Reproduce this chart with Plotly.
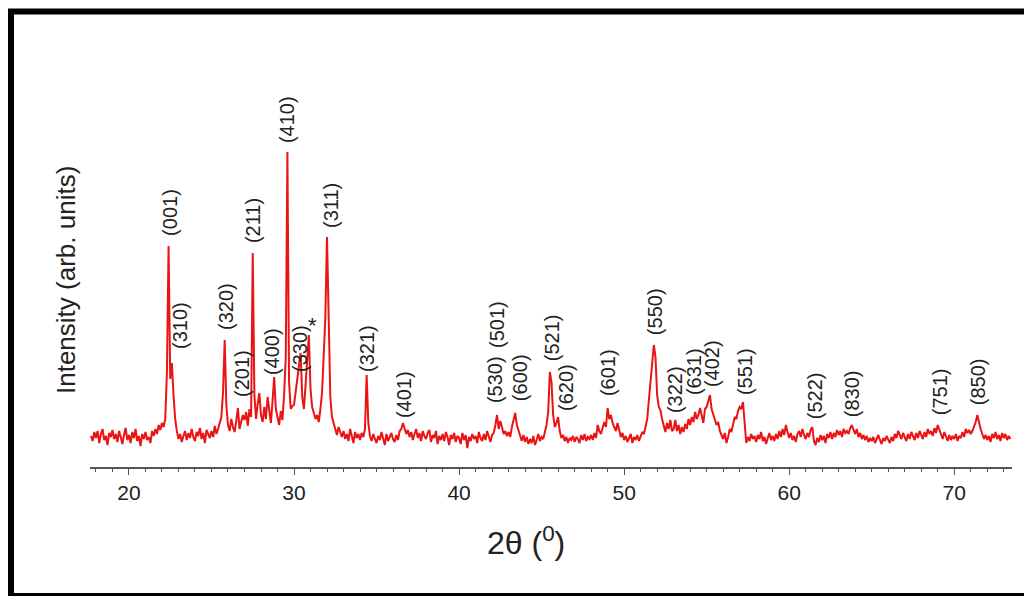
import numpy as np
import plotly.graph_objects as go

# ---- data ----
start_2theta = 17.7
step_2theta = 0.1
intensity = [
    31, 26, 35,
    29, 36, 24, 33, 38, 27, 31, 22, 34, 30,      # 18
    37, 28, 33, 25, 36, 30, 23, 32, 39, 27,      # 19
    32, 24, 35, 29, 38, 26, 31, 21, 33, 28,      # 20
    35, 27, 30, 24, 36, 31, 38, 33, 42, 37,      # 21
    44, 40, 48, 95, 221, 88, 104, 72, 48, 36,    # 22
    28, 33, 25, 31, 36, 27, 34, 29, 38, 30,      # 23
    26, 35, 31, 39, 28, 34, 24, 37, 32, 29,      # 24
    36, 30, 41, 33, 38, 45, 50, 75, 127, 62,     # 25
    42, 36, 48, 40, 35, 46, 59, 38, 44, 52,      # 26
    47, 55, 41, 58, 50, 214, 72, 48, 63, 74,     # 27
    52, 45, 60, 48, 70, 55, 44, 66, 90, 58,      # 28
    49, 42, 56, 47, 72, 110, 315, 85, 58, 61,    # 29
    62, 75, 88, 104, 114, 70, 58, 82, 110, 132,  # 30
    78, 60, 54, 48, 52, 45, 58, 75, 112, 150,    # 31
    230, 127, 70, 50, 44, 38, 32, 40, 35, 30,    # 32
    36, 28, 33, 26, 38, 31, 24, 35, 29, 33,      # 33
    27, 34, 30, 38, 92, 45, 31, 26, 33, 28,      # 34
    24, 31, 27, 35, 29, 22, 33, 26, 30, 34,      # 35
    28, 25, 32, 27, 36, 38, 44, 39, 33, 37,      # 36
    30, 35, 27, 33, 38, 29, 34, 26, 36, 31,      # 37
    28, 34, 37, 25, 32, 29, 36, 23, 31, 27,      # 38
    33, 26, 35, 30, 22, 32, 28, 34, 25, 31,      # 39
    29, 23, 34, 27, 32, 19, 30, 26, 33, 28,      # 40
    31, 24, 35, 29, 26, 33, 27, 36, 30, 25,      # 41
    32, 34, 42, 52, 38, 46, 40, 33, 36, 31,      # 42
    35, 30, 40, 46, 54, 42, 36, 30, 26, 32,      # 43
    25, 30, 23, 28, 24, 31, 22, 27, 33, 26,      # 44
    30, 28, 36, 42, 55, 95, 85, 52, 40, 44,      # 45
    50, 36, 29, 32, 26, 30, 24, 29, 27, 31,      # 46
    25, 30, 28, 24, 32, 27, 33, 26, 30, 28,      # 47
    32, 27, 34, 29, 42, 36, 33, 38, 45, 40,      # 48
    59, 48, 52, 44, 40, 36, 44, 38, 30, 34,      # 49
    27, 31, 25, 29, 33, 24, 30, 27, 32, 26,      # 50
    30, 35, 33, 40, 48, 67, 85, 100, 122, 110,   # 51
    72, 60, 57, 48, 40, 35, 44, 38, 47, 36,      # 52
    38, 47, 36, 42, 33, 40, 35, 43, 38, 48,      # 53
    42, 50, 45, 55, 48, 52, 59, 50, 44, 58,      # 54
    60, 66, 72, 58, 52, 48, 42, 45, 36, 32,      # 55
    28, 34, 24, 30, 38, 35, 42, 50, 48, 56,      # 56
    60, 58, 65, 48, 24, 30, 26, 33, 28, 31,      # 57
    25, 32, 28, 35, 26, 30, 23, 29, 34, 27,      # 58
    31, 26, 33, 28, 36, 30, 38, 32, 42, 35,      # 59
    29, 34, 27, 31, 25, 33, 36, 30, 38, 32,      # 60
    28, 34, 30, 37, 40, 26, 22, 29, 25, 32,      # 61
    27, 31, 24, 33, 29, 35, 28, 34, 30, 37,      # 62
    32, 36, 30, 38, 34, 36, 33, 39, 42, 37,      # 63
    33, 38, 30, 34, 28, 32, 27, 31, 25, 29,      # 64
    26, 30, 24, 28, 32, 27, 23, 29, 26, 31,      # 65
    28, 24, 30, 26, 33, 29, 36, 31, 28, 34,      # 66
    30, 26, 33, 28, 35, 31, 27, 34, 29, 36,      # 67
    32, 28, 35, 30, 38, 33, 36, 31, 39, 34,      # 68
    42, 37, 33, 28, 35, 30, 26, 32, 27, 31,      # 69
    28, 33, 26, 31, 29, 35, 30, 38, 34, 37,      # 70
    33, 36, 40, 45, 52, 44, 38, 33, 28, 32,      # 71
    27, 31, 25, 33, 29, 35, 28, 32, 26, 34,      # 72
    29, 33, 27, 31, 28,                          # 73
]
two_theta = np.round(start_2theta + step_2theta * np.arange(len(intensity)), 2)

peak_labels = ["(001)", "(310)", "(320)", "(201)", "(211)", "(400)", "(410)", "(330)", "*",
               "(311)", "(321)", "(401)", "(530)", "(501)", "(600)", "(521)", "(620)", "(601)",
               "(550)", "(322)", "(631)", "(402)", "(551)", "(522)", "(830)", "(751)", "(850)"]
label_x = [22.48, 23.09, 25.88, 26.85, 27.52, 28.67, 29.58, 30.36, 31.15,
           32.24, 34.42, 36.67, 42.18, 42.30, 43.70, 45.64, 46.48, 49.03,
           51.88, 53.09, 54.24, 55.33, 57.33, 61.58, 63.82, 69.15, 71.45]
label_y = [255, 142, 160, 93, 246, 115, 347, 119, 142,
           262, 119, 72, 87, 142, 89, 129, 79, 94,
           155, 77, 95, 103, 95, 71, 73, 75, 85]

x_ticks = [20, 30, 40, 50, 60, 70]

# ---- figure ----
FONT = "Liberation Sans, Arial, sans-serif"
fig = go.Figure()
fig.add_trace(go.Scatter(x=two_theta, y=intensity, mode="lines",
                         line=dict(color="rgb(235,20,20)", width=2),
                         hoverinfo="x+y", showlegend=False))

for txt, lx, ly in zip(peak_labels, label_x, label_y):
    if txt == "*":
        fig.add_annotation(x=lx, y=ly, text="*", showarrow=False,
                           font=dict(family=FONT, size=22, color="#222"))
    else:
        fig.add_annotation(x=lx, y=ly, text=txt, showarrow=False, textangle=-90,
                           xanchor="center", yanchor="middle",
                           font=dict(family=FONT, size=20, color="#222"))

# plot area: x 90..1012 px, y 20..467 px
L, R, T, B = 90, 12, 20, 129
W, H = 1024, 596
pw, ph = W - L - R, H - T - B

def px(p):
    return (p - L) / pw

def py(q):
    return (H - B - q) / ph

fig.add_annotation(xref="paper", yref="paper", x=px(526), y=py(541),
                   text="2θ (<sup>0</sup>)", showarrow=False,
                   xanchor="center", yanchor="middle",
                   font=dict(family=FONT, size=32, color="#222"))
fig.add_annotation(xref="paper", yref="paper", x=px(66), y=py(280),
                   text="Intensity (arb. units)", showarrow=False, textangle=-90,
                   xanchor="center", yanchor="middle",
                   font=dict(family=FONT, size=26, color="#222"))

# outer black frame
fig.add_shape(type="rect", xref="paper", yref="paper",
              x0=px(11), x1=px(1034), y0=py(596), y1=py(11.5),
              line=dict(color="black", width=6), fillcolor="rgba(0,0,0,0)")

fig.update_xaxes(range=[17.64, 73.5], tickvals=x_ticks, ticks="outside", ticklen=6,
                 tickcolor="#555", showline=True, linecolor="#555", linewidth=1.5,
                 showgrid=False, zeroline=False,
                 tickfont=dict(family=FONT, size=21, color="#222"),
                 minor=dict(dtick=1, ticks="outside", ticklen=3, tickcolor="#555"))
fig.update_yaxes(range=[0, 447], visible=False, showgrid=False, zeroline=False)

fig.update_layout(width=W, height=H, margin=dict(l=L, r=R, t=T, b=B),
                  plot_bgcolor="white", paper_bgcolor="white")

fig.write_html("out.html", config={"displayModeBar": False},
               post_script="document.body.style.margin='0';document.body.style.overflow='hidden';")
